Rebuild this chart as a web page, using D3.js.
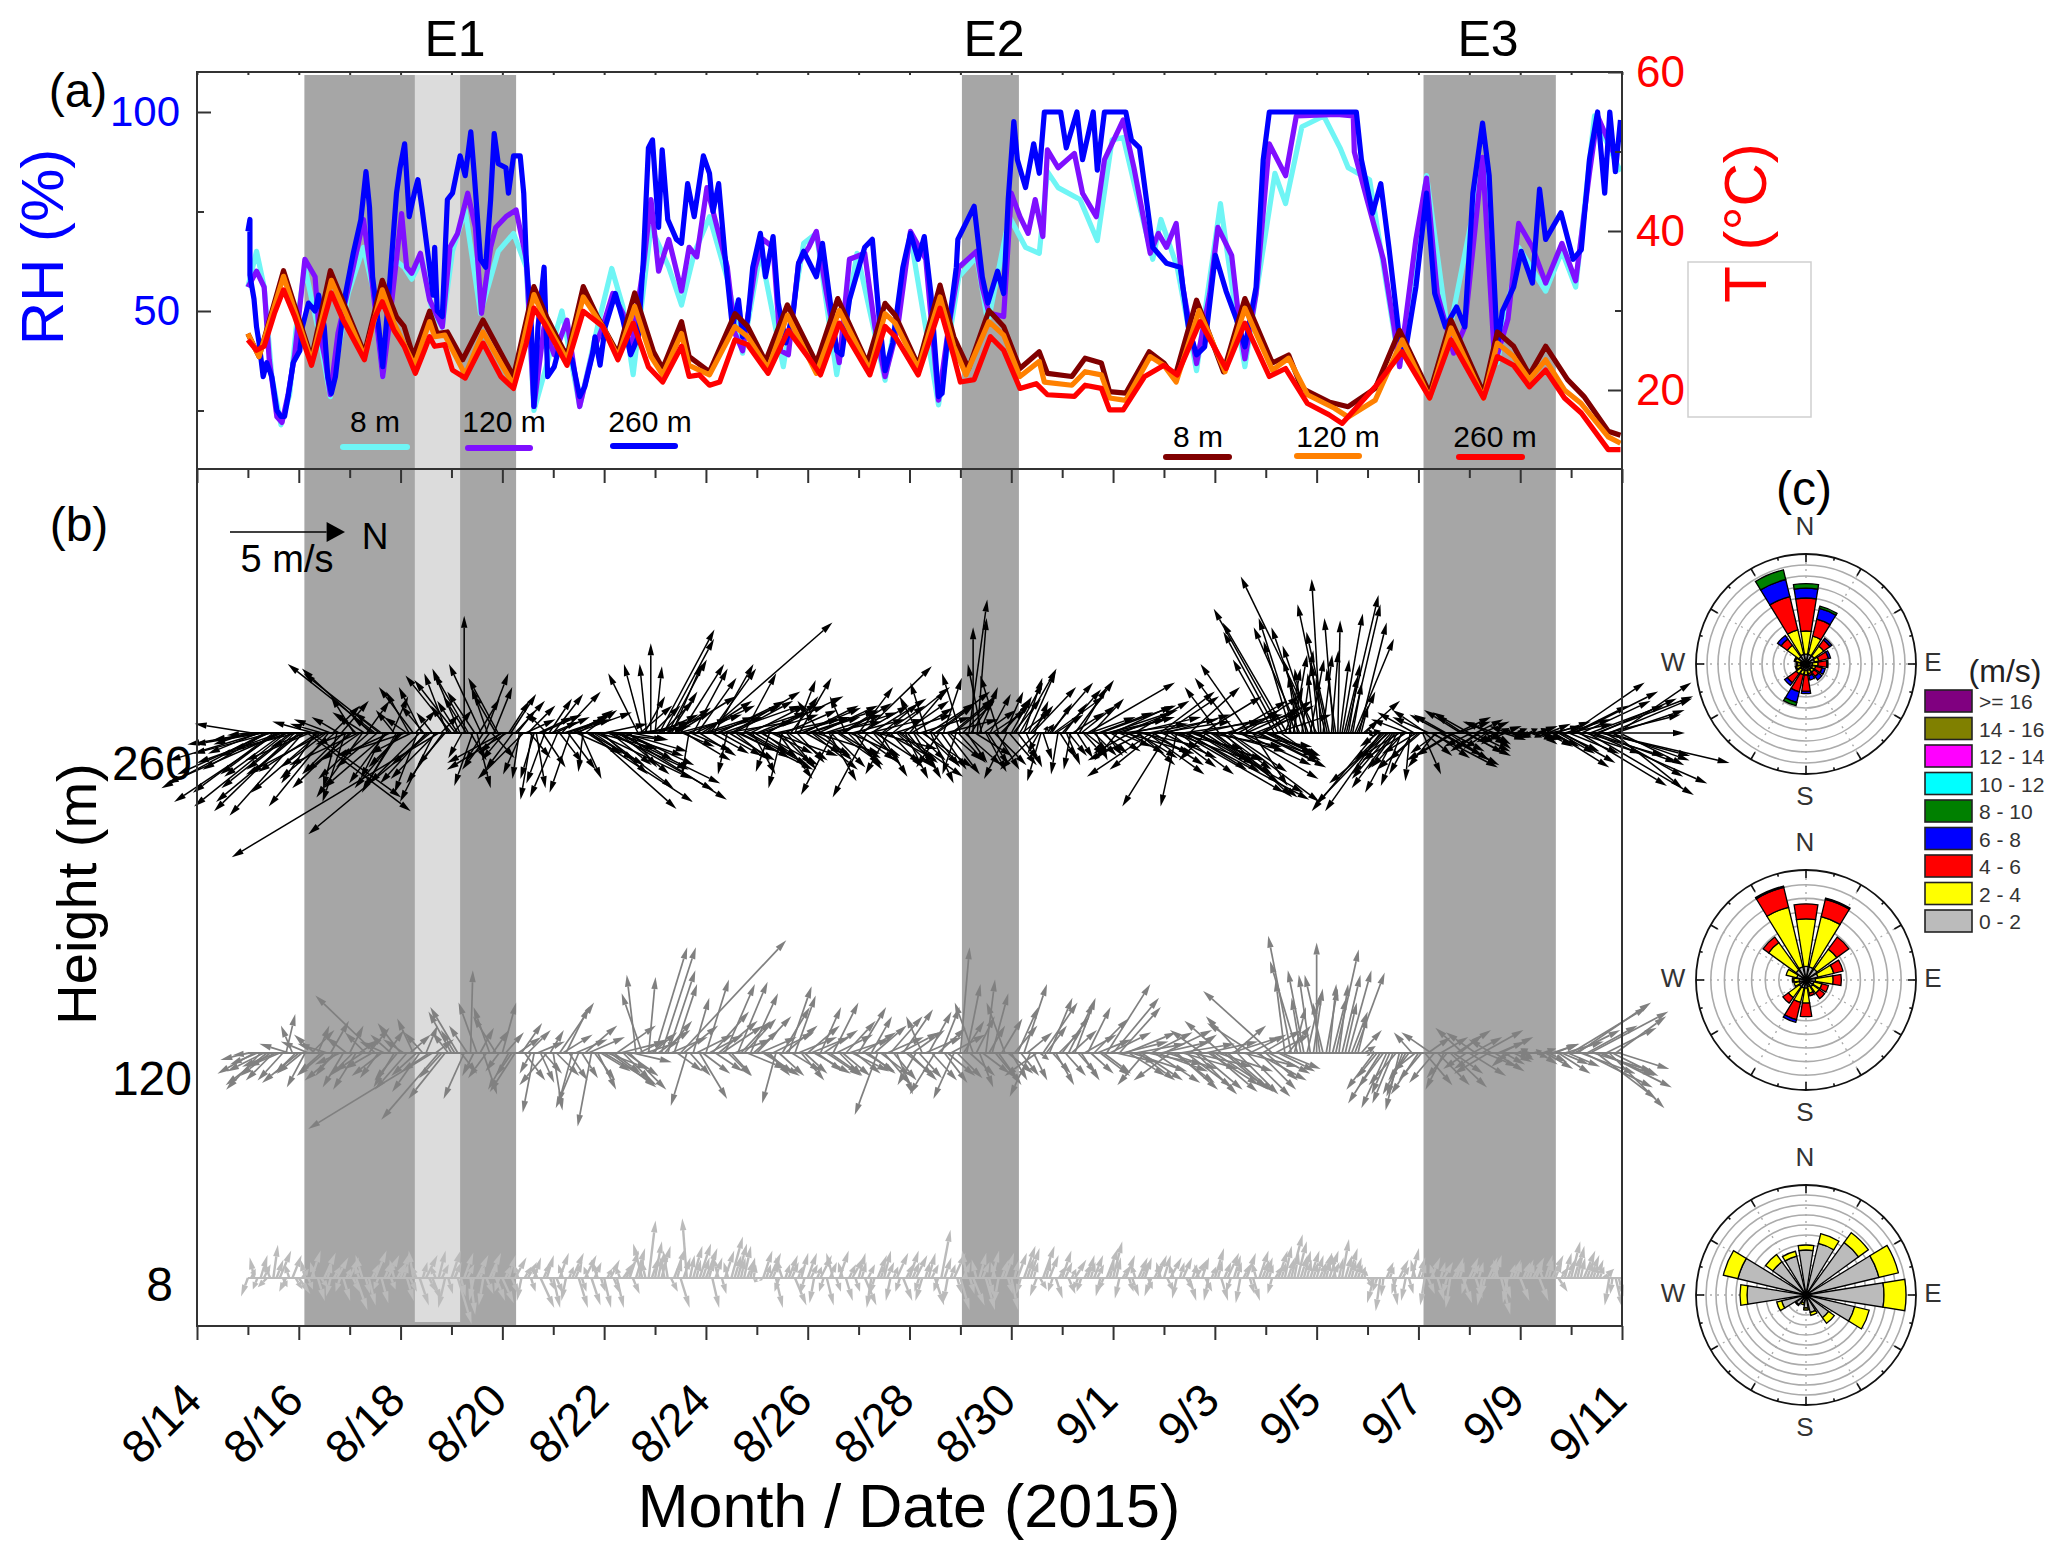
<!DOCTYPE html>
<html>
<head>
<meta charset="utf-8">
<script src="https://cdn.jsdelivr.net/npm/d3@7"></script>
<style>
  html, body { margin: 0; background: #fff; }
  text { font-family: "Liberation Sans", Arial, sans-serif; }
</style>
</head>
<body>
<svg id="chart" width="2067" height="1558"></svg>
<script>
// days are counted from 8/14
const rh260Day = [1,1.04,1.04,1.12,1.17,1.22,1.3,1.37,1.47,1.57,1.65,1.72,1.79,1.89,2.02,2.07,2.19,2.32,2.39,2.5,2.57,2.64,2.72,2.82,2.92,3.07,3.22,3.32,3.39,3.45,3.57,3.65,3.77,3.92,3.99,4.08,4.17,4.27,4.34,4.42,4.57,4.64,4.67,4.72,4.82,4.92,5.02,5.17,5.27,5.38,5.45,5.57,5.67,5.77,5.84,5.92,6.07,6.12,6.22,6.35,6.42,6.47,6.57,6.62,6.7,6.82,6.89,7.02,7.12,7.22,7.37,7.52,7.62,7.77,7.82,7.92,8.02,8.22,8.37,8.52,8.67,8.77,8.87,8.95,9.07,9.14,9.25,9.42,9.52,9.64,9.77,9.95,10.07,10.14,10.25,10.37,10.52,10.64,10.72,10.82,10.92,11.07,11.17,11.32,11.42,11.57,11.72,11.82,11.92,12.17,12.29,12.42,12.57,12.67,12.82,12.97,13.12,13.27,13.42,13.52,13.67,13.87,14.02,14.17,14.29,14.42,14.57,14.64,14.77,14.92,14.95,15.27,15.43,15.54,15.73,15.85,15.94,16.05,16.12,16.28,16.44,16.55,16.65,16.97,17.08,17.29,17.4,17.61,17.69,17.83,18.25,18.36,18.52,18.78,19.05,19.32,19.48,19.64,19.8,20.01,20.22,20.43,20.59,20.81,20.95,21.07,22.78,22.88,23.1,23.26,23.42,23.63,23.74,23.95,24.16,24.32,24.53,24.75,24.91,25.07,25.26,25.39,25.55,25.65,25.87,26.02,26.24,26.38,26.5,26.8,27.04,27.2,27.36,27.52,27.66,27.76,27.87,27.97];
const rh260 = [70,73,59,53,46,42,33.5,37,33.5,25,23.5,23.5,28.5,37,40,46,52,50,54,46,33.5,29.3,33.5,44.4,54.4,64.5,73,85,76,58.6,46,36,54.4,79.6,86,92,73.7,79.6,83,76,61,54,66,50,48.6,78,79.6,89,84,95,84,63,61,78,94.6,87,86,79.6,89,89,79.6,63,46,26,46,61,33.5,36,41,40,37.7,28.5,31,39,43.5,36.4,46,54.4,47.7,39,43.5,62.8,91,93,71,90.5,73,68,67,82,73.7,89,84.6,75,82,64.5,46,52.8,43.5,47.7,61,69.5,58.6,68.7,52,42,50,62,65,58.6,67,54.4,40,39,52.8,59.5,66,68,46,35,42,61,69.5,63,68.7,54.4,28.5,29.3,46,61,68,76.3,58.6,52,60,54.4,78,97.6,88,81,92,84.6,100,100,91,100,88,100,85.4,100,100,93,91,66,62,61,46,39,41,64,55,47.7,41,56,88,100,100,88,74.6,82,66,42.8,39.5,56,79.6,54.4,46,51,46,79.6,97.2,84,41,50,56,65,57,80.6,68,74.7,63,65.4,88,100,79.6,100,85,98];
const rh120Day = [1,1.17,1.32,1.42,1.57,1.67,1.79,1.92,2.12,2.32,2.39,2.52,2.62,2.77,3.07,3.27,3.42,3.65,3.77,4.02,4.12,4.22,4.39,4.57,4.82,4.97,5.12,5.32,5.47,5.59,5.77,5.87,6.07,6.27,6.47,6.62,6.82,7.02,7.27,7.52,7.77,7.97,8.17,8.37,8.52,8.77,8.92,9.07,9.27,9.52,9.67,9.82,10.02,10.22,10.42,10.57,10.72,10.97,11.12,11.32,11.47,11.62,11.82,12.02,12.17,12.37,12.62,12.82,13.12,13.32,13.52,13.77,14.02,14.32,14.57,14.77,14.97,15.32,15.43,15.56,15.85,16,16.17,16.33,16.47,16.62,16.71,16.92,17.24,17.4,17.67,17.83,18.2,18.41,18.73,18.89,19.05,19.24,19.37,19.64,19.9,20.06,20.33,20.49,20.59,20.81,21.07,21.39,21.6,22.4,22.72,22.74,22.99,23.31,23.52,23.63,23.95,24.16,24.37,24.69,24.91,25.26,25.5,25.76,25.97,26.24,26.5,26.82,27.09,27.36,27.52,27.89];
const rh120 = [56,60,56,37.7,23.4,22,29,39,63,58.6,46,37.7,29,44.4,61,73,59.5,33.5,46,74.5,61,59.5,64.5,52.8,46,66,69.5,79.6,71,49.4,66,71,73.7,75.4,63,26,46,39,47.7,26,39.4,46,54.4,49.4,39.4,61,78,60,68,55,66,63.6,81,71,61,44.4,40,61,68,66,40,39,62,66,70,54.4,37,63,64.5,46,33.5,46,70,63,27.6,46,61,65,56,49.5,48.6,79.6,73.7,69.5,78,68.7,90.5,86,89.6,79.6,73.7,88,98,86,64.5,69.5,66,72,56,36.8,54.4,71,64,46,38,54.4,92,84,99,99.4,99,90,78,63,46,36,68,83.4,54.4,39.4,46,88.6,36.8,48,72,66,57,67,57.6,84.6,99,88];
const rh8Day = [1,1.17,1.32,1.47,1.65,1.82,1.95,2.12,2.37,2.62,2.97,3.27,3.45,3.65,3.87,4.07,4.22,4.42,4.62,4.82,5.02,5.27,5.57,5.92,6.22,6.47,6.62,7.17,7.52,7.87,8.15,8.37,8.57,8.92,9.27,9.52,9.77,10.07,10.42,10.72,11.07,11.52,11.92,12.17,12.57,12.97,13.52,14.02,14.57,14.97,15.32,15.54,15.96,16.28,16.55,16.71,16.92,17.35,17.69,17.98,18.2,18.46,18.78,18.94,19.26,19.64,20.11,20.43,20.59,21.18,21.39,21.71,22.14,22.46,22.62,23.04,23.63,24.16,24.59,25.28,25.55,25.97,26.5,26.82,27.09,27.46,27.97];
const rh8 = [56,65,56,33.5,21.4,29,46,61,46,28.5,54.4,66,56,33.5,63,61,58,63,50,46,65,75.4,49.4,65,69.5,61,25,50,26,46,60.7,51,34,71,61,51.5,64.5,73.7,58,39.4,65,36,67,69.5,34,64.5,32.6,68.7,26.4,58.6,63.6,47,73.7,66,64.5,85,81,78,67.7,93,93.6,79.6,63,73,61,35,77,47.7,36,84.6,77,96.3,99,91,86,83,36,84,43.6,88,37,66,55,65,56,99,85];

const t260Day = [1,1.17,1.32,1.52,1.7,1.92,2.25,2.42,2.64,2.87,3.29,3.47,3.64,3.87,4.07,4.29,4.47,4.57,4.67,4.87,5.02,5.27,5.62,5.97,6.22,6.47,6.62,6.82,7.07,7.27,7.59,7.97,8.27,8.57,8.87,9.15,9.52,9.67,9.87,10.07,10.27,10.57,10.82,11.22,11.62,12.07,12.25,12.62,13.22,13.52,13.72,14.17,14.6,14.87,15,15.27,15.59,15.85,16.17,16.49,16.71,17.24,17.45,17.77,17.93,18.2,18.62,19,19.26,19.71,20.22,20.59,21.07,21.39,21.82,22.24,22.5,23.15,23.68,24.22,24.64,25.28,25.55,25.87,26.18,26.5,26.87,27.2,27.73,27.97];
const t260 = [26.3,25,25.5,29.6,32.6,29.2,23.1,27.1,32.2,28.8,23.8,28.8,31.1,27.5,25.5,22.1,25,26.7,25.5,25.7,22.5,21.5,25.9,21.7,20.2,25.9,30.3,28.4,25.5,23.1,29.9,28,23.8,28.4,22.9,21,25.5,21.7,21.9,20.6,21,26.3,25.7,22.1,27.5,23.6,21.9,28.4,21.9,28,26.7,21.9,30.3,24.2,21,21.3,26.7,25,20.2,20.8,19.4,19.2,20.6,20.2,17.5,17.5,21.7,23.1,21.9,28.6,22.7,28.4,21.7,22.7,18.3,16.9,15.8,20.4,24.8,19,26.3,19,24.2,23.1,20.4,22.5,19,17.1,12.5,12.5];
const t120Day = [1,1.22,1.7,2.25,2.64,3.29,3.64,3.87,4.27,4.57,4.67,4.87,5.27,5.62,6.22,6.62,6.82,7.27,7.59,7.97,8.27,8.6,8.92,9.15,9.52,9.67,10.07,10.57,10.82,11.22,11.6,12.17,12.62,13.22,13.52,13.72,14.17,14.6,14.87,15.11,15.56,15.85,16.17,16.55,16.65,17.19,17.45,17.77,17.93,18.25,18.73,19,19.24,19.69,20.2,20.59,21.13,21.45,21.82,22.35,22.62,23.15,23.68,24.22,24.64,25.28,25.55,25.87,26.18,26.5,26.87,27.2,27.73,27.97];
const t120 = [27.1,24.2,34.3,23.6,33.8,24.2,32.6,28.4,23.1,28.6,26.7,26.9,21.9,27.3,20.6,32,29,23.8,31.7,28,24.2,30.5,24.2,21.9,27.1,23.1,21.9,28,26.7,22.7,29.4,22.1,30,22.5,29.6,28.4,22.7,31.7,25.5,21.9,28.6,26.9,21.7,23.6,21,20.6,22.3,21.9,19,18.7,24.2,23.1,21,30,22.3,30.3,22.5,24,19.4,17.7,16.6,18.7,26.3,19,27.8,19,25.9,24.2,21.3,23.8,20,18.3,14.1,13.3];
const t8Day = [1,1.22,1.7,2.25,2.62,3.29,3.64,3.92,4.07,4.25,4.57,4.72,4.92,5.22,5.62,6.22,6.62,6.87,7.27,7.59,7.87,8.27,8.6,8.97,9.15,9.52,9.67,10.07,10.57,10.82,11.17,11.6,12.17,12.59,13.17,13.52,13.72,14.17,14.6,14.87,15.16,15.56,15.85,16.17,16.55,16.71,17.19,17.45,17.77,17.93,18.25,18.71,19,19.21,19.64,20.17,20.59,21.13,21.45,21.71,22.24,22.62,23.15,23.63,24.22,24.64,25.28,25.55,25.87,26.18,26.5,26.93,27.25,27.73,27.97];
const t8 = [27.1,24.2,35,24,35,24.6,33.8,29.2,28,24.2,29.9,27.1,27.3,23.8,28.8,21.7,33,29.2,24.2,33,29.2,24.6,32.2,24.8,22.7,28.6,24.2,22.3,29.6,28,23.6,30.7,23.4,31.5,23.4,30.9,29.4,23.1,33.2,26.7,22.7,30,28,22.7,24.8,22.1,21.7,24,23.4,19.8,19.6,24.8,23.4,21.5,31.3,22.3,31.5,23.4,24.4,20.2,18.5,17.9,20.2,27.5,19.6,28.8,19.6,27.3,25.5,21.9,25.5,21.3,19.2,14.8,14.3];

// wind at 260 m, one reading every 2 h from 8/15, m/s
const wind260North = [
  -1.5,-2.5,-3,-4,-4.5,-4,-3.5,-4.5,-5,-4,-3,-3.5,
  -3.6,-3.2,4.5,3.9,-1.5,-3,-3.4,-2.6,1.2,-0.6,1.2,-1,
  -2.5,-1,-3,-2,1,-3,-3.8,-3.3,-1,-2.8,0.7,-1.5,
  -2,-3,-1,-1.5,-1,-1,-2,-5.3,-1.5,-9,-1.6,-1,
  -2,-1.8,-1.2,0,-1.5,-0.8,0.6,-1.4,1,-1.2,0.8,-1.3,
  -2.4,-2.6,1.1,1.3,-0.3,-2,1.2,-0.5,0.4,1.8,-0.8,1,
  1.3,-1.2,1.7,2,-0.9,2.5,1.5,-0.2,4.6,3.7,4.2,3.2,
  1.9,3.5,4.4,4.5,4.6,3,1.2,2.3,-1.3,-0.8,-0.3,0,
  0.3,2.4,2.2,1.7,1.3,2.6,1.9,2,-0.3,1.5,1.7,2.2,
  5.5,2,1.7,2.9,3.4,-0.4,3,1.5,3.2,1.4,2.6,1,
  3,2.5,3.4,-0.6,2.8,1.5,-0.6,1.3,1.2,0.9,1.4,2.4,
  3,2,2.8,-1,2.5,1.2,-1.4,2,1.6,-0.7,2.2,1.2,
  1.5,3,-1.5,2.4,2,1.2,1.8,-1,2.5,1.6,2.7,1,
  1.6,1.2,-0.8,2.2,-0.7,1,2.4,-1,0.8,1.4,1.8,-0.6,
  -0.8,1.6,0.8,0,0.4,-0.6,0.9,0.9,1.4,-0.8,1.2,-1,
  0.9,1.2,1.6,0.8,1.2,1.9,-1.6,-0.6,0.1,1.9,2.2,-0.3,
  1.7,0.6,-0.3,1.7,1.2,0.9,3.8,1.4,0.5,3.3,0.8,3,
  2.6,-1,2.2,3,-1.6,2.4,1.6,-2.4,2.5,-2.8,-2,2.4,
  2.4,-2,3.4,-0.7,4.5,5.4,2.2,3,4.6,2.6,-1.2,3,
  3.6,-1.5,3,4,2.4,-1.8,3.4,2.4,-2.1,1.5,3,2.2,
  2.4,2.2,-1.8,-2.4,-3,-2.8,-1.2,-1.6,-2,-0.9,-1.6,-1.3,
  -3.3,-0.4,-1.2,-1,-0.4,0.1,0.9,1.4,1.3,1.7,1.2,1.6,
  0.2,-0.1,-2.8,-2.4,-3,-2.6,-1.8,-1.4,-0.9,-1.9,-0.2,-1.6,
  -1.8,0.8,-1.5,2.9,-1.2,2.6,-1.5,1.8,-2,1.5,-1.6,2,
  -1.6,1.6,-1.2,1.2,-1,0.9,-1.4,-0.8,1,-0.8,0.6,0.5,
  0.5,-0.5,0.4,1,0.9,0.7,1.2,1.4,2.4,1.6,2.3,2,
  3.2,3.6,3.8,4.4,4.6,5,4.2,5.6,3.4,3.6,3,3.2];
const wind260East = [
  0.5,-0.4,0.5,1.2,2.4,1.8,2.6,3,2.2,3.2,2.4,3.4,
  3,3.6,3.4,2.8,2.2,2.6,1.8,3.2,-1.2,2.4,-1.4,3,
  2.4,-1.6,1.4,2.8,-1.4,-2.8,-3,-2.6,2,2.4,-1.6,2.6,
  2.4,1,-1.8,-2,2.6,-2,2.2,4.4,3,5.4,2.2,-2.6,
  -2.5,-2.3,-2.8,-5.1,-2.6,2.3,2.4,-3,-2.6,1.6,-2,-2.4,
  1.3,1.6,-1.7,-1.4,2,2,-1.2,2.9,2.4,-0.8,2.2,-1.5,
  -1.7,2.8,-1.8,-0.6,2.6,-0.9,-1,1.7,3,3.3,2,2.4,
  -0.4,1.6,2.5,2.2,2.9,1.4,1.5,-0.2,-2.6,-3,-3,-3.9,
  -2.9,-4.5,-4.1,-3.2,-3,-1.6,-3,1.2,1.8,-2.8,-2.4,-1.4,
  -4.8,-2.8,-3,-1.4,-1.2,1.8,-1.8,1.2,1.6,-2.6,1.4,1.8,
  -1.2,1.4,-1.6,1.7,1,2,2.4,1.6,-1.6,-2.3,-2.4,-1.2,
  -1,1.6,0.9,-1.4,-0.8,2.1,2.7,1.4,-1,-1.6,1,1.6,
  -2,-2.9,2.8,-1.5,1.3,1.9,-1.2,1.8,-2,1.5,1.9,2,
  -1.9,2,-1.6,1.5,-2.2,2.2,-1.8,1.5,-2.4,1.8,-1.5,1.8,
  -2.6,1.4,-5.8,-4.6,-5,-3,1.7,-1.7,1.4,-2.5,-1.5,2,
  -1.6,-2.2,-2.8,-2.4,-2.7,-2,1.6,2.1,-0.3,-2.2,-1.6,1.8,
  -1.9,1.4,1.6,-2.3,-2,1,-2.2,-1.5,1.2,-1.2,1,-1,
  -1.2,1.2,-0.9,0.9,0.9,-1.4,1.4,1.2,1.8,1.9,1.6,-1.8,
  -1.6,3.2,1.2,3.2,2.6,2.9,-2,1.2,2.6,-1.6,1.2,2.2,
  2.8,-2,2.8,3,-1.4,-2.4,2,-1.6,-3,2.3,1.5,-1.4,
  1.2,1,-3.2,-4.4,-5.4,-4.8,-4,-5,-4.6,-3.2,-4.6,-3.8,
  -6.8,-6.7,-5.6,-4.4,-5,-4.9,-5.2,-6,-5.6,-4.1,-4.8,-1.4,
  -0.1,0.1,3.4,3.4,3.1,2.2,2.4,2.6,2.3,1.2,2.1,-0.9,
  1.6,1.8,-1,1.5,1.5,1.4,-0.8,1.2,1.2,-0.7,-1,1,
  -0.9,0.8,0.8,-0.5,0.7,0.7,-0.5,0.5,0.3,-0.3,0.2,-0.2,
  0.2,0.1,-0.2,0.3,-0.3,0.5,0.6,-0.3,1.5,0.9,1.3,-0.4,
  -2.2,-1.8,2.3,0,2.7,2.2,-1.6,1.3,1.9,-1.5,2.4,-2.2];
// the odd hours at 260 m, the weaker winds that fill the band
const wind260OddNorth = [
  -1,-1.8,-2.2,-3,-2.8,-3.4,-2.4,-3.6,-2.6,-3,-2,-2.8,
  -2.2,-1.5,-2.8,-1.8,-2.6,-1.4,-2,-1.6,-2.4,-1.2,-1.8,-1.4,
  -2,-0.8,-1.7,-1.4,-2.2,-0.9,-1.8,-1.2,-1.6,-2.2,-0.8,-1.5,
  -1.5,-1,-1.8,0.9,-2.2,-1,-1.6,-0.7,-2,0.8,-1.2,-0.8,
  0.8,-0.9,-0.6,-1,0.7,-1.2,0.9,-0.8,-0.7,1,-1,-0.9,
  -1,0.9,-1.2,0.8,-0.8,1.3,0.9,-0.6,1.5,1,-0.9,1.2,
  1.5,1,1.8,1.2,1.6,2,0.9,1.4,2.4,1.8,2.6,2,
  2.6,1.8,3,2.2,2.8,2,1.6,2.4,1.4,0.9,1.8,1.2,
  1.8,1.4,2,1.2,1.6,2.2,1.4,2.4,1.8,2.6,1.6,2.2,
  2.4,1.6,2.8,1.8,3,2,2.6,1.7,2.8,1.9,2.4,1.5,
  2.6,1.5,2.2,1.8,2.8,1.4,2.3,1.7,2.5,1.2,2.6,1.6,
  2.2,1.6,2.6,1.3,2.4,1.5,2.7,1.8,2.1,1.4,2.3,1.7,
  2.1,1.5,2.4,1.2,2.6,1.6,2.2,1.4,2.5,1.7,2,1.3,
  1.8,1.3,2.2,1.5,2,1.2,1.6,1.1,2.3,1.4,1.7,1.2,
  1.4,0.9,1.1,1.6,0.8,1.4,0.9,1.5,1,1.3,0.8,1.2,
  1.2,0.9,1.3,0.7,1,0.6,-0.5,0.4,0.3,0.9,1.2,0.7,
  1,0.8,1.4,0.7,1.5,1,2,1,2.4,1.1,2.6,1.3,
  2.6,1.4,2.8,1.6,3,1.8,2.6,2,3,2.2,3.2,2.4,
  2.8,2,3,2.4,3.4,2.6,3.2,2.8,3.6,2.2,3.2,2.6,
  3,2.2,3.2,2.5,3.4,1.8,3,2.4,2.8,2,2.6,2.2,
  2.2,1.8,2.4,1.6,0.8,0.5,0.6,-0.4,0.5,-0.5,0.6,-0.3,
  -0.3,0.4,-0.5,0.3,-0.4,0.4,0.6,0.5,0.4,0.8,0.3,0.6,
  0.5,-0.2,-0.8,-1.2,-1.5,-1.7,-1.2,-1.8,-1.4,-1.6,-1,-1.5,
  -1.4,1.2,-1.6,1.6,-1.2,1.8,-1.4,1.5,-1.7,1.4,-1.2,1.6,
  -1.2,1.2,-1.1,1,-1,0.8,-0.9,0.9,-0.7,0.6,-0.6,0.5,
  0.4,-0.4,0.5,0.7,0.8,0.9,1,1.2,1.5,1.7,2,2.2,
  2.4,2.8,3,3.4,3.2,3.6,3.4,3.8,3.2,3.4,3,2.8];
const wind260OddEast = [
  0.1,0.3,0.9,0.5,1.6,0.9,1.8,1.3,1.9,1,1.6,0.7,
  1.8,0.6,1.2,-0.5,1.7,-0.4,1.5,-0.6,2,-0.7,1.8,0.5,
  1.7,-0.8,1.2,-0.9,2,-0.7,1.5,-0.9,2.2,1,-1,2.4,
  1.5,-0.7,0.9,-1,2.2,-1.2,1.4,-0.9,2,-0.8,1.4,-1.2,
  -1,-1.4,1.1,-1.6,1.2,-1.8,-1.5,1.3,-2,1.1,-1.7,0.9,
  1.2,-1.4,1.6,-1,1.8,-0.6,1.1,2,-0.7,1.5,-0.9,-0.5,
  -0.7,1.3,-0.6,1.6,-0.8,0.9,2,-1,1.4,1.2,0.7,1.8,
  0.3,1.4,1,1.8,0.8,1.2,0.3,-0.3,-1.2,-1.6,-0.5,-1.2,
  -0.8,-1.4,-0.9,-1.8,-1.1,-0.6,0.6,-0.8,0.8,-1.2,1,-0.7,
  -0.7,0.9,-1.2,1,-0.5,1.2,-1.4,0.8,-0.9,1.1,-1.2,0.9,
  -0.8,1.1,-1.3,0.9,-0.6,1.4,-1,1.2,-0.7,1.3,-1.1,0.9,
  -0.7,1,-1.2,1.2,-0.5,1.5,-0.9,1.1,-1.3,1.4,-0.6,1.2,
  -1.2,1.1,-0.6,1.4,0.7,-1.3,1.2,1.5,-0.8,1.3,-1.4,1.6,
  -1.1,1.2,-0.7,1.4,-1.3,1.5,-1.2,1.6,-0.6,1.2,-1.4,1.3,
  -1.4,1.3,-1.7,1,-2,-1,1.4,-1,1.6,-1.3,-1.8,1.4,
  -1.5,1.2,-1,1.5,-1.2,-1.4,0.9,1.2,-0.4,-1.3,-0.8,1.1,
  -1.3,1,-0.9,1.1,-1.2,0.8,-0.7,1,-0.9,0.9,-0.6,0.8,
  -0.7,0.6,-0.4,0.9,-0.7,1.1,0.6,0.9,-0.6,1.4,-0.5,1.1,
  -0.8,1.5,0.7,1.8,-0.5,1.6,1.2,1.7,-0.8,1.4,0.6,1.8,
  0.8,1.6,-0.9,1.7,0.6,-1,1.4,-1.1,1,-0.8,1.3,-1.2,
  1,0.9,-0.8,1.1,-2,-2.8,-3.4,-2.5,-3.6,-2.8,-3.2,-2.6,
  -3,-3.4,-2.4,-3.6,-2.8,-3.2,-2.5,-3,-2.2,-1.8,-1.2,-0.6,
  -0.1,0.1,0.6,1.2,1.8,2,1.6,1.1,1.5,-0.6,1.8,0.9,
  1.2,1,-0.7,1.1,0.9,1,-0.8,0.8,1,-0.5,-0.8,0.9,
  0.6,-0.6,0.7,0.5,-0.5,0.5,0.4,-0.3,0.3,0.2,-0.2,0.2,
  0.1,-0.1,0.2,-0.2,0.3,0.3,-0.4,0.6,-0.5,0.8,-0.6,0.9,
  -1.2,0.9,-1.4,1,-1.2,1.3,-1.5,1,-0.8,1.2,-1,1.4];

// wind at 120 m, one reading every 3 h
const wind120North = [
  -1.2,-1.6,-1.5,-1.8,-1.2,-1.4,0.4,-0.5,
  -1.6,-0.8,1,0.5,-1.2,0.8,-1.4,-0.9,
  0.6,-1,-1.2,0.9,-2.6,-1.3,0.7,-0.9,
  -1,-1.4,-0.7,-1.2,0.5,-5.4,-2.5,-1.6,
  -1,-1.2,-0.9,0.1,-0.8,0.6,-0.7,-1,
  0.6,-0.9,-1.1,0.9,1,-0.5,0.6,-1.2,
  0.4,1.5,1,-0.6,-1,1.4,-0.6,0.8,
  2.3,2,1.7,1.2,1.6,-0.4,-0.9,0.3,
  1.4,1.5,1.2,1,4.6,-0.7,0.7,1.2,
  1,1.6,1.7,1.3,0.9,1.3,1.4,1.2,
  1.5,1.6,0.9,-0.6,1.2,1,0.9,1,
  1.4,1.6,0.9,1.5,1.1,1,1.3,1.6,
  1.2,1.3,0.9,-1,1.2,1.4,0.7,1.3,
  1.2,-0.8,-0.7,1,-1.1,0.8,1.2,-0.9,
  0.4,0.6,-0.8,0.6,0.4,0.7,1,-0.8,
  0.7,0.9,1,-0.9,-1.4,1.5,1,0.8,
  1.2,1.1,0.9,0.8,1,1.5,1.3,1.9,
  2,1.8,2.2,2.4,1.6,-1.2,1.8,2.2,
  2.1,-1.6,1.8,2.4,1.2,1.8,-1.4,2.2,
  2.3,-1.6,2,1.4,-1.5,1.9,-2,1.6,
  1.4,-3,1.6,-0.4,-1,-1.2,-0.7,-0.5,
  0,-0.8,0.3,1,0.8,1,1.3,0.9,
  0.1,-1.2,-1.4,-1.1,-0.9,-0.6,-1,-0.8,
  -1.2,1.2,-1.3,1.4,-0.8,1.6,1.5,-1.2,
  1.6,-1.3,1.8,-1.5,1.3,1.4,-0.7,0.8,
  0.6,-0.3,0.4,0.8,1.2,1.2,1.4,1.7,
  3.3,3.2,3,3.4,2.6,3,2.4,2.2];
const wind120East = [
  0.3,0.9,1.6,1.4,1.2,0.6,-1.7,-1.2,
  1.3,1.5,-1,-1.2,1,-1.4,1.2,1.5,
  -1.2,1.6,0.8,-1.1,-2.5,1,-1,1.5,
  -1.3,1.6,-1.5,1.7,-1.2,3.3,2.9,2,
  -1.8,-2,2,-3.6,-2.2,1.8,-2,-1.6,
  -2.2,1.6,1.7,-1.3,-1,2.6,1.3,1.4,
  2.5,-2.2,-2,2.2,2.4,-1.2,3.2,1.6,
  1.4,1.5,-1.2,1.2,1.6,-3.4,-2.6,-3.3,
  -4.6,-4.6,-3.6,-3,-4.9,2.3,-2.4,2,
  -3.2,-1.8,-1.4,-3,1,-3.1,-1.5,-2.6,
  -1.6,1,1,2.2,-2,-2.9,-2.5,1.2,
  -1.2,0.9,-2,1,-2.2,1,-1.4,0.8,
  -2,0.8,-1.6,2.7,1.4,-1.6,1.8,-1.9,
  1.2,1.4,-1.6,-1.8,1.8,-2,1,2,
  -4.6,-3,-2.2,1.5,-3.2,-2.6,1.4,-2.2,
  1.2,-2,-3,1.9,1,-2.2,-2.4,1.4,
  -1.6,-2.2,-2.4,1.2,-2,-1.5,1,-3,
  -2.4,-2,-0.9,0.8,1.2,1.4,-0.9,0.8,
  -1,1.2,1.6,0.7,-0.8,1.8,-1,1.4,
  1.5,-1.4,1.7,-1.2,-1.6,1.9,-1.3,1.6,
  1.2,-2.7,0.8,-3.2,-5.1,-4,-3.6,-3.4,
  -4.8,-3.4,-3,-4.5,-3.4,-3.6,-3.5,-1,
  0.1,1.6,2.2,2.4,2.2,2.5,1.8,-0.9,
  1.8,1.4,-0.9,1.4,1.6,1.5,-1,-1.1,
  1,-0.9,-1,0.9,0.8,-0.7,0.6,0.4,
  0.3,0.2,-0.1,0.5,0.7,-0.4,0.9,-0.5,
  -2,-2.2,1.5,-1.8,2,1.5,2.4,-1.6];
const wind120OddNorth = [
  -0.8,-1.2,-1.6,-1.3,-1.5,-1.1,-1.3,-0.9,
  -1.1,-1.2,-0.9,-1,-1.3,-0.8,-1.1,-0.9,
  -1,0.9,-0.9,-1.2,-0.8,-1.1,-0.9,-1,
  -0.9,0.9,-1.1,-0.8,-1.2,0.8,-1,-0.7,
  -0.6,0.7,-0.8,-0.5,0.6,-0.8,0.7,-0.6,
  0.8,-0.7,1,0.9,-0.5,1.2,0.8,0.6,
  1,1.3,0.8,1.4,0.7,1.6,0.9,1.3,
  1.8,1.2,2,1.4,1.7,1.2,1.5,1.1,
  1.4,1.2,1.6,1.1,1.5,0.9,1.6,1.2,
  1.5,1.2,1.8,1,1.6,1.3,1.7,1.1,
  1.6,1.2,1.8,1.1,1.4,1.3,1.7,1,
  1.7,1.1,1.5,1.3,1.6,1.2,1.8,1.1,
  1.5,1.2,1.4,1.3,1.6,1,1.7,1.2,
  1.4,1,1.6,1.1,1.2,1,1.5,1.1,
  0.9,1.1,0.8,1.2,0.7,1,0.9,1.1,
  1,0.8,1.1,0.6,0.4,0.9,0.8,1,
  0.9,1.1,0.8,1.4,1,1.5,1.2,1.8,
  1.8,2,1.6,2.2,1.8,2.4,2,2.2,
  2.2,1.8,2.4,2,2.6,1.9,2.3,2,
  2.4,1.9,2.2,1.8,2.4,1.6,2.2,1.7,
  1.8,1.5,1.7,1,0.5,-0.4,0.6,0.4,
  -0.3,0.5,0.6,0.4,0.5,0.7,0.4,0.5,
  0.2,-0.9,-1.1,-0.8,-1.2,-0.7,-0.9,-1,
  -1,1,-1.1,1.2,-0.9,1.3,1,-1,
  1.3,-1.1,1.4,-1,1.2,0.9,-0.6,0.5,
  0.4,-0.3,0.5,0.6,0.8,1,1.2,1.4,
  2,2.4,2.2,2.6,2.4,2.2,2,2.2];
const wind120OddEast = [
  0.1,0.5,0.8,1,0.6,1.2,-0.4,0.9,
  0.9,-0.5,-0.8,0.9,-0.4,1,0.5,-0.7,
  1,-0.6,-0.9,0.7,1.1,-0.5,-0.8,1.2,
  -0.6,-0.8,1,-0.9,0.8,-0.6,1.1,-0.9,
  -1,0.9,-1.2,1,-1.1,1.1,-1,0.8,
  -0.9,1,-0.7,1.2,0.9,-0.5,0.9,-1,
  1,-0.8,1.2,-0.6,1.1,-0.7,1.2,0.8,
  0.7,0.9,-0.5,1,0.4,-0.6,-0.5,-0.9,
  -1,-1.4,-0.7,0.8,-1.2,1,-0.8,0.9,
  -0.8,0.8,-1.2,1,-0.6,-1.4,0.7,-1,
  -0.7,0.9,-0.9,1,-1.2,0.8,-0.7,0.9,
  -0.7,0.8,-1,0.9,-0.8,1,-0.6,0.9,
  -0.9,0.9,-1.2,1,-0.7,1.2,-0.9,1,
  -1,1.1,-0.7,1.2,-1.1,1.3,-0.8,1.1,
  -1.4,1,-1.6,0.9,-1.2,1.2,-1.5,0.9,
  -1.2,1,-0.9,1.2,0.3,-1.2,0.9,-1,
  1,-1,0.9,-0.8,0.9,-0.6,0.9,-0.9,
  0.4,-0.5,1,-0.4,1.2,0.5,1.3,-0.5,
  0.7,1.3,-0.4,1.5,0.6,1.6,-0.5,1.7,
  0.8,1.6,-0.7,1.8,0.6,-0.8,1.2,-1,
  0.9,-0.8,0.7,-1.2,-2,-2.4,-2.6,-2.8,
  -2.2,-2.8,-2.4,-3,-2.2,-1.8,-1.6,-0.3,
  0,1.1,1.5,1.8,1.4,1.9,1.2,0.8,
  1.2,-0.7,1.3,-0.7,1.1,0.9,-0.8,0.7,
  -0.7,0.7,0.6,-0.6,-0.5,0.5,0.3,-0.2,
  0.2,-0.1,0.2,-0.2,0.4,-0.4,0.5,0.6,
  -1,0.9,-1.2,0.8,1,-1.1,1,0.7];

// wind at 8 m, one reading every 3 h
const wind8North = [
  -0.3,-0.2,0.3,-0.4,0.2,0.5,-0.3,0.4,
  0.5,-0.2,0.4,0.3,0.5,-0.2,0.5,0.3,
  0.4,0.5,-0.3,0.3,0.5,0.3,0.5,-0.2,
  0.4,0.3,-0.2,0.4,0.5,0.4,0.3,-0.3,
  0.4,0.6,0.4,0.2,0.5,-0.2,0.5,0.4,
  0.5,0.3,0.5,-0.2,0.4,0.3,0.6,0.3,
  0.3,0.4,-0.2,0.5,0.4,0.5,0.4,-0.3,
  0.3,0.4,0.3,0.5,0.4,0.4,-0.4,0.3,
  0.3,0.4,-0.2,0.5,0.4,-0.2,0.4,0.5,
  0.5,0.3,-0.3,0.4,0.5,0.4,0.3,0.2,
  -0.1,0.4,0.5,0.3,-0.3,0.4,0.5,0.3,
  0.4,-0.2,0.5,0.3,-0.3,0.4,0.3,0.5,
  0.3,0.5,-0.2,0.4,0.3,-0.2,0.5,0.4,
  0.4,0.5,-0.3,0.3,0.4,0.4,-0.2,0.5,
  0.4,-0.2,0.5,0.3,0.4,0.3,-0.2,0.4,
  0.3,0.4,0.5,0.4,-0.3,0.5,0.4,0.3,
  0.4,0.3,0.5,-0.2,0.3,0.4,-0.2,0.5,
  0.4,-0.2,0.4,0.3,0.4,0.3,-0.3,0.4,
  0.3,0.5,-0.2,0.4,0.3,0.5,0.3,-0.2,
  0.4,0.3,0.5,0.3,-0.2,0.4,0.3,0.4,
  0.3,-0.2,0.4,0.3,0.5,0.4,0.3,0.4,
  0.3,0.4,0.4,-0.2,0.3,0.4,0.3,0.2,
  0.2,-0.3,-0.2,0.3,0.2,0.4,-0.2,0.3,
  0.3,-0.2,0.4,0.3,0.4,-0.2,0.3,0.4,
  0.4,0.3,-0.2,0.4,0.3,0.4,-0.2,0.3,
  0.4,0.3,0.5,0.4,0.3,0.5,0.4,0.3,
  0.4,0.3,0.5,0.4,0.3,0.5,-0.2,0.3];
const wind8East = [
  0.8,-0.9,-1,0.4,-1.45,-1.2,0.6,-1,
  0.7,-0.8,-1.2,1,-1.1,0.8,-0.9,1,
  -0.9,1.4,-1,1.2,-1.2,1.1,-1,-0.8,
  -1.1,1,-1.2,1.2,-1,1,-1.2,1.3,
  -1.2,2,-1.1,1.6,-1,1.2,-1.1,1,
  1.1,-1,-0.9,1,-0.7,-0.9,1.3,-1,
  1.3,-1.1,1,-1.1,1.3,-1,1.2,-0.8,
  1.3,-0.8,1.3,-0.7,-1.2,-1.3,-1.5,-2.5,
  -1.6,-1.4,-1.2,-1.3,1.3,-2.6,-1.4,-1.5,
  -1.3,1.3,-1,-1.2,-1.8,-1.5,-1.4,-0.9,
  0.2,-1.2,-1.1,1.3,-0.9,-1,1.2,-1.1,
  -1.1,1.1,-1,1.2,-1.1,-1.2,1,-0.9,
  -1.1,1.2,1.3,-1,-1.2,1,-1.1,1,
  -1.2,-1,1,-1.1,1.2,-2.1,1.1,-1.1,
  1.4,-1.2,1.2,-1.1,1.4,-1.2,1.1,-1.1,
  1.4,-1.1,-1.4,-1.3,0.8,-1.4,-1,0.9,
  -1.2,0.7,-0.8,0.6,-1,-1,0.8,-1.3,
  -1.6,0.9,-1,0.8,-0.9,-0.9,0.8,-1,
  -1,-0.9,0.9,-0.9,1,-0.8,-0.9,1,
  -1.3,1,-1.1,-1,1.1,-1.1,1,-1.2,
  -0.9,0.7,-1.2,-1.4,-1.9,-1.6,-1.2,-1.2,
  -1,-1.1,-1.2,-1.1,-1.7,-1.3,-0.9,-0.5,
  0.4,1.1,1.45,-0.7,1.2,-0.8,1,-1.3,
  -0.9,1.2,-0.9,1,-0.7,1.3,-0.9,1.1,
  -0.9,0.9,1.2,-0.9,-1,1.6,1.1,-0.8,
  1,-0.8,-0.9,1,-1,-1,0.6,-1.1,
  -1.6,-1.4,-1.2,-1,-0.8,-0.4,1.2,1.3];
const wind8OddNorth = [
  0.2,-0.2,0.3,-0.3,0.3,0.2,-0.2,0.3,
  0.3,0.2,-0.2,0.3,0.2,0.3,-0.2,0.2,
  0.3,-0.2,0.2,0.3,-0.2,0.3,0.2,0.3,
  0.2,0.3,-0.2,0.2,0.3,-0.2,0.3,0.2,
  0.3,0.2,0.3,-0.2,0.2,0.3,0.2,-0.2,
  0.2,0.3,-0.2,0.3,0.2,-0.2,0.3,0.2,
  0.3,-0.2,0.2,0.3,0.2,-0.2,0.3,0.2,
  0.2,0.3,-0.2,0.2,0.3,0.2,-0.2,0.3,
  0.2,-0.2,0.3,0.2,0.3,0.2,0.2,0.3,
  0.2,0.3,0.2,-0.2,0.3,0.2,0.3,0.1,
  0.1,0.2,0.3,-0.2,0.2,0.3,0.2,-0.2,
  0.3,0.2,-0.2,0.3,0.2,-0.2,0.3,0.2,
  0.2,0.3,-0.2,0.2,0.3,0.2,-0.2,0.3,
  0.3,-0.2,0.2,0.3,-0.2,0.3,0.2,0.2,
  0.3,0.2,-0.2,0.3,0.2,-0.2,0.3,0.2,
  0.2,-0.2,0.3,0.2,0.3,0.2,-0.2,0.3,
  0.3,0.2,-0.2,0.3,0.2,0.3,-0.2,0.2,
  0.2,0.3,0.2,-0.2,0.3,0.2,0.3,-0.2,
  0.3,-0.2,0.2,0.3,0.2,-0.2,0.3,0.2,
  0.2,0.3,-0.2,0.2,0.3,0.2,-0.2,0.3,
  0.2,0.3,0.2,0.3,0.2,0.3,0.2,0.2,
  0.3,0.2,0.3,0.2,0.3,0.2,0.2,0.1,
  0.1,-0.2,-0.1,0.2,-0.2,0.3,0.2,-0.2,
  0.2,0.3,-0.2,0.2,-0.2,0.3,0.2,-0.2,
  0.3,0.2,-0.2,0.3,-0.2,0.3,0.2,0.2,
  0.3,0.2,0.3,-0.2,0.2,0.3,0.2,0.3,
  0.3,0.2,0.3,0.2,0.2,0.3,-0.1,0.2];
const wind8OddEast = [
  -0.4,0.5,-0.6,-0.7,-0.8,0.4,-0.6,0.5,
  -0.4,0.5,-0.7,0.4,-0.6,-0.5,0.6,-0.4,
  0.6,-0.5,0.7,-0.6,0.5,-0.7,0.5,-0.6,
  -0.6,0.6,-0.5,-0.7,0.6,-0.5,-0.6,0.7,
  -0.7,0.8,-0.6,1,-0.5,0.7,-0.7,0.6,
  -0.5,0.7,-0.6,-0.5,0.6,-0.5,-0.7,0.5,
  0.7,-0.6,-0.5,-0.7,0.6,-0.5,-0.7,0.6,
  -0.4,0.7,-0.5,-0.4,0.7,-0.9,-0.8,-0.9,
  -1,-0.9,0.6,-0.8,-0.9,-1,-0.8,-0.9,
  -0.8,-0.9,0.7,-0.7,-1,-0.9,-0.8,-0.6,
  0.1,-0.6,-0.7,0.6,-0.6,-0.7,-0.5,0.7,
  -0.6,-0.5,0.6,-0.7,0.6,-0.7,-0.6,0.6,
  -0.7,-0.6,0.7,-0.6,-0.7,-0.5,0.6,-0.6,
  -0.7,0.6,-0.7,-0.6,0.6,-0.9,-0.6,0.7,
  -0.7,0.7,-0.8,-0.7,0.8,-0.7,-0.8,0.7,
  -0.8,0.7,-0.9,-0.7,0.5,-0.8,0.6,-0.5,
  -0.7,-0.4,0.5,-0.6,-0.7,-0.6,0.5,-0.8,
  -0.9,-0.5,0.6,-0.6,-0.7,0.5,-0.6,-0.7,
  0.6,-0.6,-0.7,0.5,-0.6,-0.6,0.6,-0.5,
  -0.8,-0.7,0.6,-0.7,-0.6,0.7,-0.7,-0.8,
  -0.6,-0.5,-0.7,-0.9,-1.1,-1,-0.8,-0.7,
  -0.7,-0.8,-0.7,-0.9,-1,-0.8,-0.6,-0.3,
  0.2,0.6,0.8,-0.5,0.7,-0.5,0.7,-0.8,
  -0.6,0.7,-0.6,-0.7,0.7,-0.6,-0.7,0.7,
  -0.6,-0.7,0.8,-0.6,-0.8,0.9,-0.6,-0.7,
  -0.7,-0.6,-0.7,-0.6,-0.8,-0.7,-0.4,-0.8,
  -1,-0.9,-0.8,-0.6,-0.5,-0.3,0.7,0.8];

// wind roses, cumulative per speed bin for N, NNE, ... NNW
const roseDirs = ["N","NNE","NE","ENE","E","ESE","SE","SSE","S","SSW","SW","WSW","W","WNW","NW","NNW"];
const rose260 = [[.9,3,6,6.9,7.3],[.9,2.6,4.2,5.2,5.4],[.9,2,2.7,2.9,2.9],[.8,1.2,2.1,2.3,2.3],[.6,1.1,1.9,2,2],[.6,.9,1.5,1.8,1.8],[.6,.9,1.4,1.8,1.8],[.6,.9,1.1,1.5,1.5],[.6,1,2.5,2.7,2.7],[.6,1,2.6,3.6,3.9],[.6,1.1,2.1,2.4,2.4],[.5,.9,1,1,1],[.5,.8,.9,.9,.9],[.5,1,1.1,1.1,1.1],[.8,2.1,2.8,3.2,3.2],[.9,3.2,6.3,7.9,8.8]];
const rose120 = [[1,4.5,5.6,5.6],[1,4.8,6.1,6.2],[1,2.8,3.9,3.9],[.9,2.1,2.8,2.8],[.7,2,2.6,2.6],[.6,1.2,1.7,1.7],[.6,1.2,1.7,1.7],[.5,1,1.2,1.2],[.6,1.7,2.7,2.7],[.6,1.7,3,3.2],[.6,1.6,2.1,2.1],[.5,.9,.9,.9],[.5,.9,1,1],[.7,1.5,1.5,1.5],[.9,3.4,3.9,3.9],[1,5.5,7,7.1]];
const rose8 = [[4.5,5],[5.3,6.3],[6.5,7.7],[7.5,9.5],[7.8,10],[5,6.5],[2.8,3.5],[1.8,2.1],[1.3,1.5],[.8,1],[1.2,1.3],[2.5,3],[5.9,6.6],[7,8.5],[4.1,5],[4,4.5]];

const speedBins = ["0 - 2","2 - 4","4 - 6","6 - 8","8 - 10","10 - 12","12 - 14","14 - 16",">= 16"];
const speedColors = ["#bbbbbb","#ffff00","#ff0000","#0000ff","#008000","#00ffff","#ff00ff","#808000","#800080"];

const eventBands = [[2.11,6.27],[15.03,16.15],[24.1,26.7]];
const lightBand = [4.28,5.17];
const eventLabels = ["E1","E2","E3"];
const dateLabels = ["8/14","8/16","8/18","8/20","8/22","8/24","8/26","8/28","8/30","9/1","9/3","9/5","9/7","9/9","9/11"];

const svg = d3.select("#chart");
const left = 197, right = 1622, topA = 72, bottomA = 469, bottomB = 1326;

const x = d3.scaleLinear().domain([0,28]).range([left,right]);
const yRh = d3.scaleLinear().domain([100,50]).range([112,311]);
const yT = d3.scaleLinear().domain([60,20]).range([72,390]);
const vec = d3.scaleLinear().domain([0,5]).range([0,115]);

// grey event bands go under both panels
svg.selectAll(".band").data(eventBands).enter().append("rect")
  .attr("x", d => x(d[0])).attr("width", d => x(d[1]) - x(d[0]))
  .attr("y", 75).attr("height", bottomB - 75).attr("fill", "#a6a6a6");
svg.append("rect").attr("x", x(lightBand[0])).attr("width", x(lightBand[1]) - x(lightBand[0]))
  .attr("y", 75).attr("height", 1322 - 75).attr("fill", "#dcdcdc");

// panel (a)
const rhLine = (days, vals, scale, color) => {
  const line = d3.line().x((d, i) => x(days[i])).y(d => scale(d));
  svg.append("path").attr("d", line(vals)).attr("fill", "none")
    .attr("stroke", color).attr("stroke-width", 5.2).attr("stroke-linejoin", "round");
};
rhLine(rh8Day, rh8, yRh, "#6ff5f5");
rhLine(rh120Day, rh120, yRh, "#7f0fff");
rhLine(rh260Day, rh260, yRh, "#0000ff");
rhLine(t8Day, t8, yT, "#800000");
rhLine(t120Day, t120, yT, "#ff8000");
rhLine(t260Day, t260, yT, "#ff0000");

// panel (b) stick plots, an arrow to the right points north
function drawArrows(north, east, perDay, shift, base, color, lineW) {
  const g = svg.append("g").attr("fill", color).attr("stroke", color);
  north.forEach((n, i) => {
    const e = east[i];
    const x0 = x(1 + (i + shift) / perDay), y0 = base;
    const dx = vec(n), dy = vec(e);
    const len = Math.hypot(dx, dy);
    if (!len) return;
    const ux = dx / len, uy = dy / len;
    const head = Math.min(12, len * 0.6), w = 3.2;
    const x1 = x0 + dx, y1 = y0 + dy;
    const bx = x1 - ux * head, by = y1 - uy * head;
    g.append("line").attr("x1", x0).attr("y1", y0).attr("x2", bx).attr("y2", by).attr("stroke-width", lineW);
    g.append("path").attr("stroke", "none")
      .attr("d", `M${x1},${y1}L${bx - uy * w},${by + ux * w}L${bx + uy * w},${by - ux * w}Z`);
  });
  svg.append("line").attr("x1", x(1)).attr("x2", x(28)).attr("y1", base).attr("y2", base)
    .attr("stroke", color).attr("stroke-width", 2);
}
drawArrows(wind260North, wind260East, 12, 0, 733, "#000000", 1.5);
drawArrows(wind260OddNorth, wind260OddEast, 12, 0.5, 733, "#000000", 1.5);
drawArrows(wind120North, wind120East, 8, 0, 1053, "#808080", 1.7);
drawArrows(wind120OddNorth, wind120OddEast, 8, 0.5, 1053, "#808080", 1.7);
drawArrows(wind8North, wind8East, 8, 0, 1278, "#bbbbbb", 2.4);
drawArrows(wind8OddNorth, wind8OddEast, 8, 0.5, 1278, "#bbbbbb", 2.4);

// frames and axes
const frame = (y0, y1) => svg.append("rect").attr("x", left).attr("y", y0)
  .attr("width", right - left).attr("height", y1 - y0)
  .attr("fill", "none").attr("stroke", "#333").attr("stroke-width", 2);
frame(topA, bottomA);
frame(bottomA, bottomB);

const allDays = d3.range(0, 29), evenDays = allDays.filter(d => d % 2 === 0);
const oddDays = allDays.filter(d => d % 2 === 1);
[bottomA, bottomB].forEach(yy => {
  svg.append("g").attr("transform", `translate(0,${yy})`)
    .call(d3.axisBottom(x).tickValues(oddDays).tickSize(9).tickFormat("")).call(cleanAxis);
  svg.append("g").attr("transform", `translate(0,${yy})`)
    .call(d3.axisBottom(x).tickValues(evenDays).tickSize(14).tickFormat("")).call(cleanAxis);
});
svg.append("g").attr("transform", `translate(0,${topA})`)
  .call(d3.axisTop(x).tickValues(allDays).tickSize(-3).tickFormat("")).call(cleanAxis);

function cleanAxis(g) {
  g.select(".domain").remove();
  g.selectAll("line").attr("stroke", "#333").attr("stroke-width", 2);
}

svg.append("g").attr("transform", `translate(${left},0)`)
  .call(d3.axisLeft(yRh).tickValues([100,50]).tickSize(-14).tickPadding(17))
  .call(cleanAxis)
  .selectAll("text").attr("font-size", 42).attr("fill", "#0000ff");
svg.append("g").attr("transform", `translate(${left},0)`)
  .call(d3.axisLeft(yRh).tickValues([75,25]).tickSize(-7).tickFormat("")).call(cleanAxis);
svg.append("g").attr("transform", `translate(${right},0)`)
  .call(d3.axisRight(yT).tickValues([60,40,20]).tickSize(-14).tickPadding(14))
  .call(cleanAxis)
  .selectAll("text").attr("font-size", 44).attr("fill", "#ff0000");
svg.append("g").attr("transform", `translate(${right},0)`)
  .call(d3.axisRight(yT).tickValues([50,30]).tickSize(-7).tickFormat("")).call(cleanAxis);

// date labels
svg.selectAll(".date").data(dateLabels).enter().append("text")
  .attr("transform", (d, i) => `translate(${x(i * 2) + 7},1403) rotate(-45)`)
  .attr("text-anchor", "end").attr("font-size", 46).attr("fill", "#000").text(d => d);

const label = (txt, px, py, size, color, anchor, rot) => svg.append("text")
  .attr("transform", `translate(${px},${py})` + (rot ? ` rotate(${rot})` : ""))
  .attr("text-anchor", anchor || "middle").attr("font-size", size).attr("fill", color || "#000").text(txt);

eventLabels.forEach((d, i) => label(d, [455,994,1488][i], 56, 50));
label("(a)", 78, 107, 48);
label("(b)", 79, 541, 48);
label("(c)", 1804, 505, 48);
label("RH (%)", 63, 247, 60, "#0000ff", "middle", -90);
label("T (°C)", 1766, 223, 60, "#ff0000", "middle", -90);
label("Height (m)", 96, 894, 56, "#000", "middle", -90);
label("Month / Date (2015)", 909, 1527, 61);
label("260", 192, 780, 48, "#000", "end");
label("120", 192, 1095, 48, "#000", "end");
label("8", 173, 1301, 48, "#000", "end");

// empty box next to the T title
svg.append("rect").attr("x", 1688).attr("y", 262).attr("width", 123).attr("height", 155)
  .attr("fill", "none").attr("stroke", "#cfcfcf").attr("stroke-width", 1.5);

// height legends in panel (a)
const legendKeys = [
  ["8 m", 375, 432, 343, 407, 447, "#6ff5f5"],
  ["120 m", 504, 432, 468, 530, 448, "#7f0fff"],
  ["260 m", 650, 432, 613, 675, 446, "#0000ff"],
  ["8 m", 1198, 447, 1166, 1229, 457, "#800000"],
  ["120 m", 1338, 447, 1297, 1359, 456, "#ff8000"],
  ["260 m", 1495, 447, 1459, 1522, 457, "#ff0000"]
];
legendKeys.forEach(k => {
  label(k[0], k[1], k[2], 30);
  svg.append("line").attr("x1", k[3]).attr("x2", k[4]).attr("y1", k[5]).attr("y2", k[5])
    .attr("stroke", k[6]).attr("stroke-width", 6).attr("stroke-linecap", "round");
});

// 5 m/s key
const keyX = d3.scaleLinear().domain([0,5]).range([230,345]);
svg.append("line").attr("x1", keyX(0)).attr("x2", keyX(4.2)).attr("y1", 532).attr("y2", 532)
  .attr("stroke", "#000").attr("stroke-width", 1.6);
svg.append("path").attr("d", `M${keyX(5)},532L${keyX(4.2)},522L${keyX(4.2)},542Z`).attr("fill", "#000");
label("N", 375, 549, 37);
label("5 m/s", 287, 572, 38);

// wind roses
function drawRose(data, cy, rings) {
  const cx = 1806, outer = 110, ringPx = rings[0];
  const r = d3.scaleLinear().domain([0, outer / ringPx]).range([0, outer]);
  const g = svg.append("g").attr("transform", `translate(${cx},${cy})`);
  d3.range(1, rings[1] + 1).forEach(i => g.append("circle").attr("r", r(i))
    .attr("fill", "none").attr("stroke", "#ababab").attr("stroke-width", 1.6));
  d3.range(0, 180, 30).forEach(a => {
    const rad = a * Math.PI / 180;
    g.append("line").attr("x1", -outer * Math.sin(rad)).attr("x2", outer * Math.sin(rad))
      .attr("y1", outer * Math.cos(rad)).attr("y2", -outer * Math.cos(rad))
      .attr("stroke", "#ababab").attr("stroke-width", 1.4).attr("stroke-dasharray", "2 5");
  });
  const arc = d3.arc();
  data.forEach((bins, s) => {
    const mid = roseDirs.indexOf(roseDirs[s]) * Math.PI / 8, half = 9 * Math.PI / 180;
    bins.forEach((v, b) => {
      const prev = b ? bins[b - 1] : 0;
      if (v <= prev) return;
      g.append("path").attr("d", arc({ innerRadius: r(prev), outerRadius: r(v), startAngle: mid - half, endAngle: mid + half }))
        .attr("fill", speedColors[b]).attr("stroke", "#000").attr("stroke-width", 1.3);
    });
  });
  g.append("circle").attr("r", outer).attr("fill", "none").attr("stroke", "#111").attr("stroke-width", 1.8);
  d3.range(0, 360, 15).forEach(a => {
    const rad = a * Math.PI / 180, len = a % 30 === 0 ? 8 : 3;
    g.append("line").attr("x1", outer * Math.sin(rad)).attr("y1", -outer * Math.cos(rad))
      .attr("x2", (outer - len) * Math.sin(rad)).attr("y2", -(outer - len) * Math.cos(rad))
      .attr("stroke", "#111").attr("stroke-width", 1.6);
  });
  label("N", cx - 1, cy - 129, 26, "#333");
  label("S", cx - 1, cy + 141, 26, "#333");
  label("W", cx - 133, cy + 7, 26, "#333");
  label("E", cx + 127, cy + 7, 26, "#333");
}
drawRose(rose260, 664, [11, 9]);
drawRose(rose120, 980, [13.6, 7]);
drawRose(rose8, 1295, [10, 10]);

// speed legend, fastest bin on top
label("(m/s)", 2005, 682, 32, "#222");
const legendY = d3.scalePoint().domain(d3.range(speedBins.length).reverse()).range([701, 921]);
speedBins.forEach((b, i) => {
  svg.append("rect").attr("x", 1925).attr("y", legendY(i) - 11).attr("width", 47).attr("height", 22)
    .attr("fill", speedColors[i]).attr("stroke", "#222").attr("stroke-width", 1.6);
  label(b, 1979, legendY(i) + 8, 21, "#333", "start");
});
</script>
</body>
</html>
